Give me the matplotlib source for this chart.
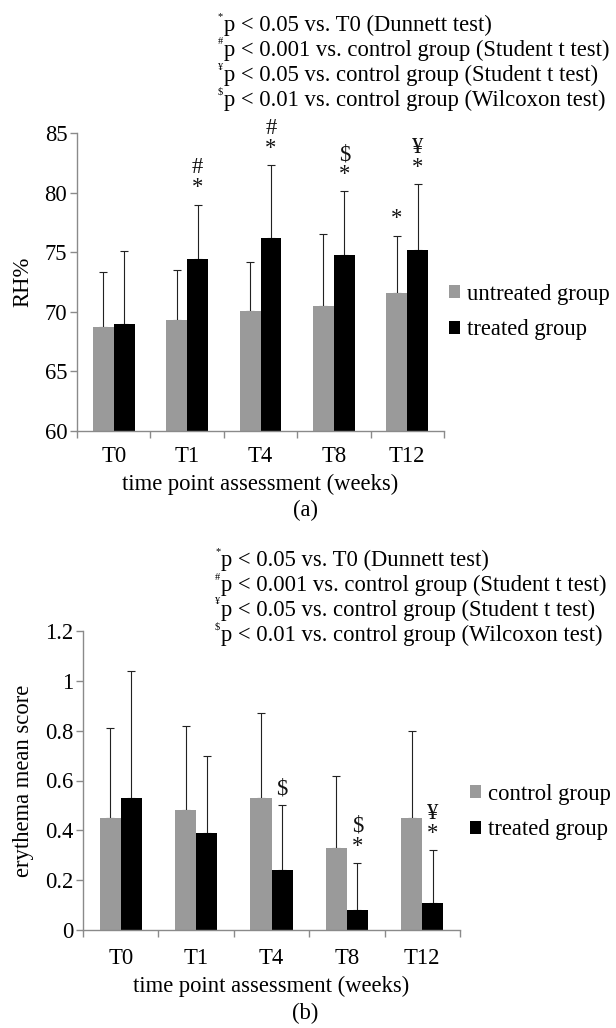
import numpy as np
import matplotlib
matplotlib.use("Agg")
import matplotlib.pyplot as plt
from matplotlib.patches import Patch

plt.rcParams['font.family'] = ['Liberation Serif', 'DejaVu Serif']

# data
times = ['T0', 'T1', 'T4', 'T8', 'T12']

rh_untreated = [68.7, 69.3, 70.1, 70.5, 71.6]
rh_untreated_sd = [4.6, 4.2, 4.1, 6.0, 4.8]
rh_treated = [69.0, 74.4, 76.2, 74.8, 75.2]
rh_treated_sd = [6.1, 4.6, 6.1, 5.3, 5.5]
rh_marks_untreated = [[], [], [], [], ['*']]
rh_marks_treated = [[], ['*', '#'], ['*', '#'], ['*', '$'], ['*', '¥']]
rh_ticks = [60, 65, 70, 75, 80, 85]

ery_control = [0.45, 0.48, 0.53, 0.33, 0.45]
ery_control_sd = [0.36, 0.34, 0.34, 0.29, 0.35]
ery_treated = [0.53, 0.39, 0.24, 0.08, 0.11]
ery_treated_sd = [0.51, 0.31, 0.26, 0.19, 0.21]
ery_marks_control = [[], [], [], [], []]
ery_marks_treated = [[], [], ['$'], ['*', '$'], ['*', '¥']]
ery_ticks = [0, 0.2, 0.4, 0.6, 0.8, 1.0, 1.2]
ery_ticklabels = ['0', '0.2', '0.4', '0.6', '0.8', '1', '1.2']

notes = [('*', 'p < 0.05 vs. T0 (Dunnett test)'),
         ('#', 'p < 0.001 vs. control group (Student t test)'),
         ('¥', 'p < 0.05 vs. control group (Student t test)'),
         ('$', 'p < 0.01 vs. control group (Wilcoxon test)')]

W, H = 616, 1028
fig = plt.figure(figsize=(W / 100, H / 100), dpi=100)

GRAY = '#9a9a9a'
AXC = '#8a8a8a'
FS = 16.3


def px(x0, y0, x1, y1):
    # pixel box -> figure fraction rect
    return [x0 / W, 1 - y1 / H, (x1 - x0) / W, (y1 - y0) / H]


def panel(rect, a, a_sd, b, b_sd, marks_a, marks_b, ticks, ticklabels,
          ylim, ylabel, labels, leg_xy, note_x, note_y0, tag, tag_y, bw, xpad):
    ax = fig.add_axes(rect)
    x = np.arange(len(times))
    off = bw / 2
    ax.errorbar(x - off, a, yerr=[np.zeros(len(a)), a_sd], fmt='none',
                ecolor='#222222', elinewidth=0.8, capsize=3, capthick=0.8, zorder=1)
    ax.errorbar(x + off, b, yerr=[np.zeros(len(b)), b_sd], fmt='none',
                ecolor='#222222', elinewidth=0.8, capsize=3, capthick=0.8, zorder=1)
    ax.bar(x - off, a, bw, color=GRAY, zorder=2)
    ax.bar(x + off, b, bw, color='black', zorder=2)

    for xs, vals, sds, mk in [(x - off, a, a_sd, marks_a), (x + off, b, b_sd, marks_b)]:
        for xi, v, s, m in zip(xs, vals, sds, mk):
            for k, sym in enumerate(m):
                ax.annotate(sym, (xi, v + s), xytext=(0, 12 + 14.5 * k),
                            textcoords='offset points', ha='center', va='center',
                            fontsize=FS, color='#111111', annotation_clip=False)

    ax.set_xlim(-0.5, len(times) - 0.5)
    ax.set_ylim(*ylim)
    ax.set_yticks(ticks)
    ax.set_yticklabels(ticklabels)
    ax.set_xticks(x)
    ax.set_xticklabels(times)
    ax.set_xticks(np.arange(len(times) + 1) - 0.5, minor=True)
    ax.tick_params(axis='x', which='major', length=0, pad=xpad, labelsize=FS)
    ax.tick_params(axis='x', which='minor', length=5, color=AXC, width=1)
    ax.tick_params(axis='y', length=5, color=AXC, width=1, labelsize=FS, pad=2)
    for sp in ['top', 'right']:
        ax.spines[sp].set_visible(False)
    for sp in ['left', 'bottom']:
        ax.spines[sp].set_color(AXC)
        ax.spines[sp].set_linewidth(1)
    ax.set_xlabel('time point assessment (weeks)', fontsize=FS, labelpad=5)
    ax.set_ylabel(ylabel, fontsize=FS, labelpad=8)

    handles = [Patch(facecolor=GRAY, label=labels[0]), Patch(facecolor='black', label=labels[1])]
    ax.legend(handles=handles, loc='center left', bbox_to_anchor=leg_xy,
              bbox_transform=fig.transFigure, frameon=False, fontsize=FS,
              handlelength=0.5, handleheight=0.5, handletextpad=0.3,
              labelspacing=0.65, borderpad=0, borderaxespad=0)

    for i, (sup, txt) in enumerate(notes):
        yy = note_y0 + 25 * i
        fig.text((note_x - 6) / W, 1 - (yy - 8) / H, sup, fontsize=7.5,
                 ha='left', va='center')
        fig.text(note_x / W, 1 - yy / H, txt, fontsize=FS, ha='left', va='center')

    fig.text(305 / W, 1 - tag_y / H, tag, fontsize=FS, ha='center', va='center')
    return ax


panel(px(77, 133, 444, 431), rh_untreated, rh_untreated_sd, rh_treated, rh_treated_sd,
      rh_marks_untreated, rh_marks_treated, rh_ticks, [str(t) for t in rh_ticks],
      (60, 85), 'RH%', ['untreated group', 'treated group'],
      (449 / W, 1 - 312 / H), 224, 25, '(a)', 510, 0.286, 11)

panel(px(83, 631, 460, 930), ery_control, ery_control_sd, ery_treated, ery_treated_sd,
      ery_marks_control, ery_marks_treated, ery_ticks, ery_ticklabels,
      (0, 1.2), 'erythema mean score', ['control group', 'treated group'],
      (470 / W, 1 - 812 / H), 221, 560, '(b)', 1013, 0.28, 13)

fig.savefig('out.png', dpi=100)
